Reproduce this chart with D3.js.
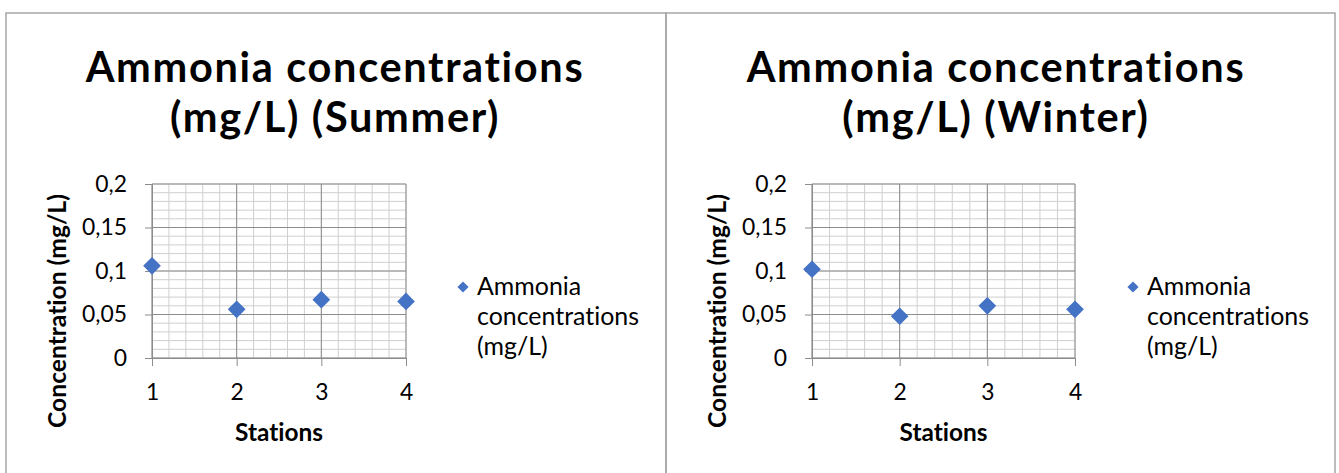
<!DOCTYPE html>
<html><head><meta charset="utf-8">
<script src="https://cdn.jsdelivr.net/npm/d3@7"></script>
<style>html,body{margin:0;padding:0;background:#fff;}svg{display:block;}
text{font-variant-ligatures:none;font-feature-settings:"liga" 0,"clig" 0;}</style>
</head><body>
<svg id="c" width="1339" height="473"></svg>
<script>
// ---- data ----
const stations = [1, 2, 3, 4];
const summerValues = [0.106, 0.056, 0.067, 0.065];
const winterValues = [0.102, 0.048, 0.060, 0.056];
const yTickValues = [0, 0.05, 0.1, 0.15, 0.2];
const yTickLabels = ["0", "0,05", "0,1", "0,15", "0,2"];
const xTickLabels = ["1", "2", "3", "4"];
const titlesLine1 = ["Ammonia concentrations", "Ammonia concentrations"];
const titlesLine2 = ["(mg/L) (Summer)", "(mg/L) (Winter)"];
const seriesName = ["Ammonia", "concentrations", "(mg/L)"];
const xAxisTitle = "Stations";
const yAxisTitle = "Concentration (mg/L)";

const FONT = "Lato, 'Open Sans', sans-serif";
const svg = d3.select("#c");

function measure(text, weight, fs) {
  const t = svg.append("text").attr("font-family", FONT).attr("font-weight", weight)
    .attr("font-size", fs).text(text);
  const w = t.node().getComputedTextLength();
  t.remove();
  return w;
}
function fitSize(text, weight, target) {
  return 100 * target / measure(text, weight, 100);
}

// title: size limited by line spacing, width matched with letter-spacing
const titleFs = 41.5;
const titleLs = (497 - measure(titlesLine1[0], "bold", titleFs)) / (titlesLine1[0].length - 1);
const tickFs = fitSize("0,05", "normal", 45);
const legendFs = fitSize("concentrations", "normal", 162);
const xTitleFs = fitSize(xAxisTitle, "bold", 88);
const yTitleFs = fitSize(yAxisTitle, "bold", 234);

const panels = [
  {values: summerValues, px: 6, pw: 660, x0: 152, x1: 406, cx: 335, legX: 463, ytx: 66},
  {values: winterValues, px: 666, pw: 669, x0: 812, x1: 1075, cx: 996, legX: 1133, ytx: 726}
];
const yTop = 184, yBot = 358;

panels.forEach((p, i) => {
  const g = svg.append("g");
  // border
  g.append("rect").attr("x", p.px).attr("y", 13).attr("width", p.pw).attr("height", 480)
    .attr("fill", "none").attr("stroke", "#a6a6a6").attr("stroke-width", 1.5);

  const x = d3.scaleLinear().domain([1, 4]).range([p.x0, p.x1]);
  const y = d3.scaleLinear().domain([0, 0.2]).range([yBot, yTop]);

  // minor grid
  const minorX = d3.range(1, 4.0001, 0.2);
  const minorY = d3.range(0, 0.2001, 0.01);
  g.append("g").selectAll("line.mx").data(minorX).join("line")
    .attr("x1", d => x(d)).attr("x2", d => x(d)).attr("y1", yTop).attr("y2", yBot)
    .attr("stroke", "#cfcfcf").attr("stroke-width", 1);
  g.append("g").selectAll("line.my").data(minorY).join("line")
    .attr("x1", p.x0).attr("x2", p.x1).attr("y1", d => y(d)).attr("y2", d => y(d))
    .attr("stroke", "#cfcfcf").attr("stroke-width", 1);
  // major grid
  g.append("g").selectAll("line").data(stations).join("line")
    .attr("x1", d => x(d)).attr("x2", d => x(d)).attr("y1", yTop).attr("y2", yBot)
    .attr("stroke", "#8c8c8c").attr("stroke-width", 1);
  g.append("g").selectAll("line").data(yTickValues).join("line")
    .attr("x1", p.x0).attr("x2", p.x1).attr("y1", d => y(d)).attr("y2", d => y(d))
    .attr("stroke", "#8c8c8c").attr("stroke-width", 1);

  // axes
  const ya = g.append("g").attr("transform", `translate(${p.x0},0)`)
    .call(d3.axisLeft(y).tickValues(yTickValues).tickSize(7).tickPadding(18)
      .tickFormat((d, k) => yTickLabels[k]));
  const xa = g.append("g").attr("transform", `translate(0,${yBot})`)
    .call(d3.axisBottom(x).tickValues(stations).tickSize(8)
      .tickFormat((d, k) => xTickLabels[k]));
  [ya, xa].forEach(a => {
    a.select(".domain").attr("stroke", "#8c8c8c");
    a.selectAll(".tick line").attr("stroke", "#8c8c8c");
    a.selectAll("text").attr("font-family", FONT).attr("font-size", tickFs).attr("fill", "#000");
  });
  xa.selectAll("text").attr("y", 42).attr("dy", 0);

  // points
  g.append("g").selectAll("path").data(p.values).join("path")
    .attr("d", d3.symbol(d3.symbolDiamond2, 200))
    .attr("transform", (d, k) => `translate(${x(stations[k])},${y(d)})`)
    .attr("fill", "#4472C4");

  // title (two lines)
  [titlesLine1[i], titlesLine2[i]].forEach((t, k) => {
    g.append("text").attr("x", p.cx).attr("y", k ? 132 : 82).attr("text-anchor", "middle")
      .attr("font-family", FONT).attr("font-weight", "bold").attr("font-size", titleFs)
      .attr("letter-spacing", titleLs)
      .text(t);
  });

  // axis titles
  g.append("text").attr("x", (p.x0 + p.x1) / 2).attr("y", 441).attr("text-anchor", "middle")
    .attr("font-family", FONT).attr("font-weight", "bold").attr("font-size", xTitleFs)
    .text(xAxisTitle);
  g.append("text").attr("transform", `translate(${p.ytx},311) rotate(-90)`)
    .attr("text-anchor", "middle")
    .attr("font-family", FONT).attr("font-weight", "bold").attr("font-size", yTitleFs)
    .text(yAxisTitle);

  // legend
  g.append("path").attr("d", d3.symbol(d3.symbolDiamond2, 80))
    .attr("transform", `translate(${p.legX},287)`).attr("fill", "#4472C4");
  const lt = g.append("text").attr("font-family", FONT).attr("font-size", legendFs).attr("fill", "#000");
  lt.selectAll("tspan").data(seriesName).join("tspan")
    .attr("x", p.legX + 14).attr("y", (d, k) => 295 + k * 30)
    .text(d => d);
});
</script>
</body></html>
